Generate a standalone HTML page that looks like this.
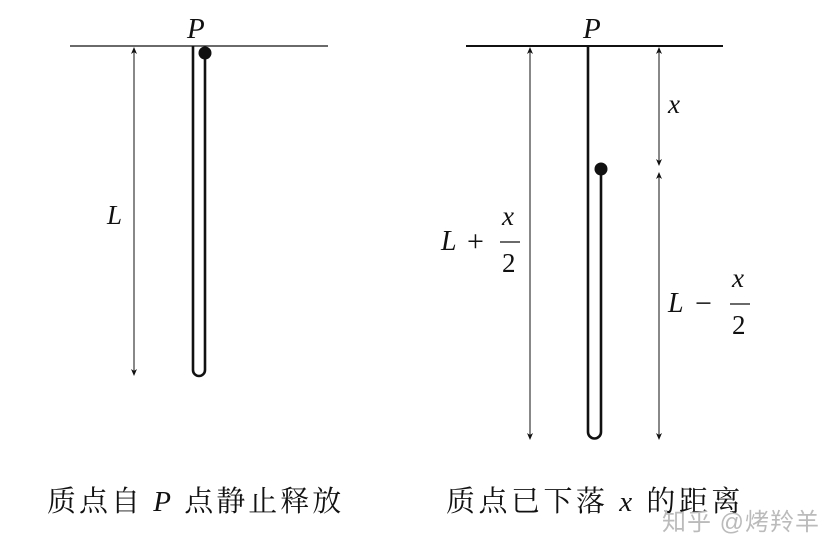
<!DOCTYPE html>
<html><head><meta charset="utf-8"><style>
html,body{margin:0;padding:0;background:#fff;}
svg{display:block;}
.m{font-family:"Liberation Serif",serif;font-style:italic;fill:#111;}
.r{font-family:"Liberation Serif",serif;fill:#111;}
.c{font-family:"Liberation Serif","Noto Serif CJK SC",serif;fill:#111;}
</style></head><body>
<svg width="837" height="557" viewBox="0 0 837 557" xmlns="http://www.w3.org/2000/svg">
<g fill="#111">
<!-- up arrowheads -->
<path d="M131,54 L134,47 L137,54 L134,52 Z"/>
<path d="M527,54 L530,47 L533,54 L530,52 Z"/>
<path d="M656,54 L659,47 L662,54 L659,52 Z"/>
<path d="M656,179 L659,172 L662,179 L659,177 Z"/>
<!-- down arrowheads -->
<path d="M131,369 L134,376 L137,369 L134,371 Z"/>
<path d="M527,433 L530,440 L533,433 L530,435 Z"/>
<path d="M656,159 L659,166 L662,159 L659,161 Z"/>
<path d="M656,433 L659,440 L662,433 L659,435 Z"/>
</g>
<!-- left -->
<line x1="70" y1="46" x2="328" y2="46" stroke="#111" stroke-width="1.3"/>
<text x="187" y="38" class="m" font-size="29">P</text>
<path d="M193,46 L193,370 A6,6 0 0 0 205,370 L205,53" fill="none" stroke="#111" stroke-width="2.6"/>
<circle cx="205" cy="53" r="6.5" fill="#111"/>
<line x1="134" y1="48" x2="134" y2="375" stroke="#111" stroke-width="1"/>
<text x="107" y="224" class="m" font-size="27">L</text>
<!-- right -->
<line x1="466" y1="46" x2="723" y2="46" stroke="#111" stroke-width="2"/>
<text x="583" y="38" class="m" font-size="29">P</text>
<path d="M588,46 L588,432 A6.5,6.5 0 0 0 601,432 L601,169" fill="none" stroke="#111" stroke-width="2.6"/>
<circle cx="601" cy="169" r="6.5" fill="#111"/>
<line x1="530" y1="48" x2="530" y2="439" stroke="#111" stroke-width="1"/>
<line x1="659" y1="48" x2="659" y2="165" stroke="#111" stroke-width="1"/>
<line x1="659" y1="173" x2="659" y2="439" stroke="#111" stroke-width="1"/>
<text x="668" y="113" class="m" font-size="27">x</text>
<text x="441" y="250" class="m" font-size="28">L</text>
<text x="467" y="251" class="r" font-size="30">+</text>
<text x="502" y="225" class="m" font-size="27">x</text>
<line x1="500" y1="242" x2="520" y2="242" stroke="#111" stroke-width="1.2"/>
<text x="502" y="272" class="r" font-size="27">2</text>
<text x="668" y="312" class="m" font-size="28">L</text>
<text x="695" y="313" class="r" font-size="30">−</text>
<text x="732" y="287" class="m" font-size="27">x</text>
<line x1="730" y1="304" x2="750" y2="304" stroke="#111" stroke-width="1.2"/>
<text x="732" y="334" class="r" font-size="27">2</text>
<!-- captions -->
<text x="47" y="511" class="c" font-size="29" letter-spacing="3">质点自 <tspan font-style="italic">P</tspan> 点静止释放</text>
<text x="446" y="511" class="c" font-size="29" letter-spacing="3.5">质点已下落 <tspan font-style="italic">x</tspan> 的距离</text>
<text x="662" y="530" font-family="'Liberation Sans','Noto Sans CJK SC',sans-serif" font-size="24" fill="#bbb" letter-spacing="1">知乎 @烤羚羊</text>
</svg>
</body></html>
